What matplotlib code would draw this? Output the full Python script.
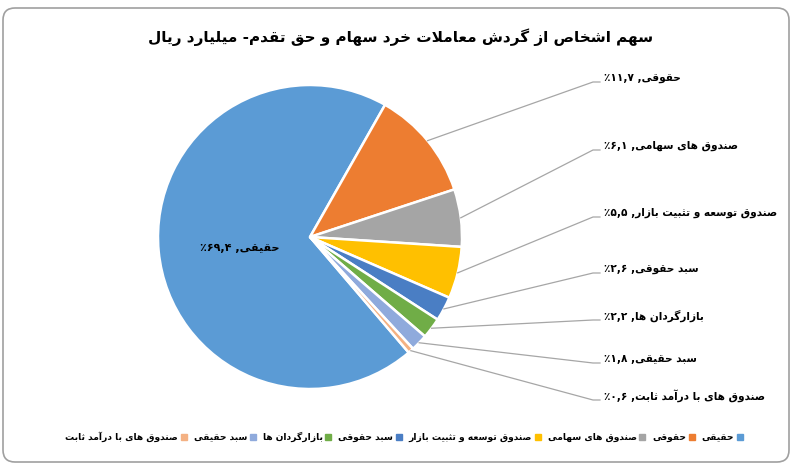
import matplotlib
matplotlib.use("Agg")
import matplotlib.pyplot as plt
from matplotlib.patches import FancyBboxPatch
from matplotlib.lines import Line2D
import numpy as np

# --- data ---
title = "سهم اشخاص از گردش معاملات خرد سهام و حق تقدم- میلیارد ریال"
categories = [
    "حقیقی", "حقوقی", "صندوق های سهامی", "صندوق توسعه و تثبیت بازار",
    "سبد حقوقی", "بازارگردان ها", "سبد حقیقی", "صندوق های با درآمد ثابت",
]
shares = [69.4, 11.7, 6.1, 5.5, 2.6, 2.2, 1.8, 0.6]
colors = ["#5B9BD5", "#ED7D31", "#A5A5A5", "#FFC000",
          "#4A7EC4", "#70AD47", "#8FAADC", "#F4B183"]

# --- minimal Persian shaping (matplotlib has no bidi/shaping) ---
FORMS = {
    "ا": (0xFE8D, 0xFE8E), "آ": (0xFE81, 0xFE82),
    "ب": (0xFE8F, 0xFE90, 0xFE91, 0xFE92), "ت": (0xFE95, 0xFE96, 0xFE97, 0xFE98),
    "ث": (0xFE99, 0xFE9A, 0xFE9B, 0xFE9C), "ح": (0xFEA1, 0xFEA2, 0xFEA3, 0xFEA4),
    "خ": (0xFEA5, 0xFEA6, 0xFEA7, 0xFEA8), "د": (0xFEA9, 0xFEAA),
    "ر": (0xFEAD, 0xFEAE), "ز": (0xFEAF, 0xFEB0),
    "س": (0xFEB1, 0xFEB2, 0xFEB3, 0xFEB4), "ش": (0xFEB5, 0xFEB6, 0xFEB7, 0xFEB8),
    "ص": (0xFEB9, 0xFEBA, 0xFEBB, 0xFEBC), "ع": (0xFEC9, 0xFECA, 0xFECB, 0xFECC),
    "ق": (0xFED5, 0xFED6, 0xFED7, 0xFED8), "ل": (0xFEDD, 0xFEDE, 0xFEDF, 0xFEE0),
    "م": (0xFEE1, 0xFEE2, 0xFEE3, 0xFEE4), "ن": (0xFEE5, 0xFEE6, 0xFEE7, 0xFEE8),
    "ه": (0xFEE9, 0xFEEA, 0xFEEB, 0xFEEC), "و": (0xFEED, 0xFEEE),
    "ی": (0xFBFC, 0xFBFD, 0xFBFE, 0xFBFF), "گ": (0xFB92, 0xFB93, 0xFB94, 0xFB95),
}
LAM_ALEF = {"ا": (0xFEFB, 0xFEFC), "آ": (0xFEF5, 0xFEF6)}


def shape(s):
    out, prev_joins, i = [], False, 0
    while i < len(s):
        c = s[i]
        if c not in FORMS:
            out.append(c)
            prev_joins = False
            i += 1
            continue
        if c == "ل" and i + 1 < len(s) and s[i + 1] in LAM_ALEF:
            lig = LAM_ALEF[s[i + 1]]
            out.append(chr(lig[1] if prev_joins else lig[0]))
            prev_joins = False
            i += 2
            continue
        f = FORMS[c]
        dual = len(f) == 4
        next_joins = dual and i + 1 < len(s) and s[i + 1] in FORMS
        if prev_joins and next_joins:
            out.append(chr(f[3]))
        elif prev_joins:
            out.append(chr(f[1]))
        elif next_joins:
            out.append(chr(f[2]))
        else:
            out.append(chr(f[0]))
        prev_joins = dual
        i += 1
    return "".join(out)


def rtl(s):
    return shape(s)[::-1]


def fa_num(v):
    return f"{v:.1f}".replace(".", ",").translate(str.maketrans("0123456789", "۰۱۲۳۴۵۶۷۸۹"))


def label(name, v):
    return "٪" + fa_num(v) + " ," + rtl(name)


plt.rcParams["font.family"] = ["DejaVu Sans"]
W, H = 795, 469
fig = plt.figure(figsize=(W / 100, H / 100), dpi=100)
ax = fig.add_axes([0, 0, 1, 1])

# chart frame
ax.add_patch(FancyBboxPatch((3, 7), 786, 454, boxstyle="round,pad=0,rounding_size=12",
                            fc="white", ec="#A0A0A0", lw=1.2, zorder=0))

cx, cy, r = 310, H - 237, 152
wedges, _ = ax.pie(shares, colors=colors, startangle=-49.5, counterclock=False,
                   center=(cx, cy), radius=r, frame=True,
                   wedgeprops=dict(edgecolor="white", linewidth=1.8))
ax.set_xlim(0, W)
ax.set_ylim(0, H)
ax.set_aspect("equal")
ax.axis("off")

ax.text(W / 2 + 3, H - 37, rtl(title), ha="center", va="center",
        fontsize=11, fontweight="bold")

# big slice label inside
ax.text(240, H - 248, label(categories[0], shares[0]), ha="center", va="center",
        fontsize=8, fontweight="bold")

# outside labels with leader lines
label_y = [82, 150, 217, 273, 320, 363, 400]
for w, name, v, ly in zip(wedges[1:], categories[1:], shares[1:], label_y):
    ang = np.deg2rad((w.theta1 + w.theta2) / 2)
    x0, y0 = cx + r * np.cos(ang), cy + r * np.sin(ang)
    ax.add_line(Line2D([x0, 593, 600], [y0, H - ly, H - ly], color="#A6A6A6", lw=0.9))
    ax.text(604, H - ly + 4, label(name, v), ha="left", va="center",
            fontsize=7.6, fontweight="bold")

# legend, right-to-left
handles = [Line2D([], [], marker="s", ls="", color=c, markersize=4.2) for c in colors]
leg = ax.legend(handles[::-1], [rtl(c) for c in categories][::-1],
                loc="center", bbox_to_anchor=(404 / W, 1 - 437 / H), ncol=8,
                markerfirst=False, frameon=False, handlelength=0.6, handletextpad=0.3,
                columnspacing=0.8, prop=dict(size=6.6, weight="bold"))

fig.savefig("out.png", dpi=100)
